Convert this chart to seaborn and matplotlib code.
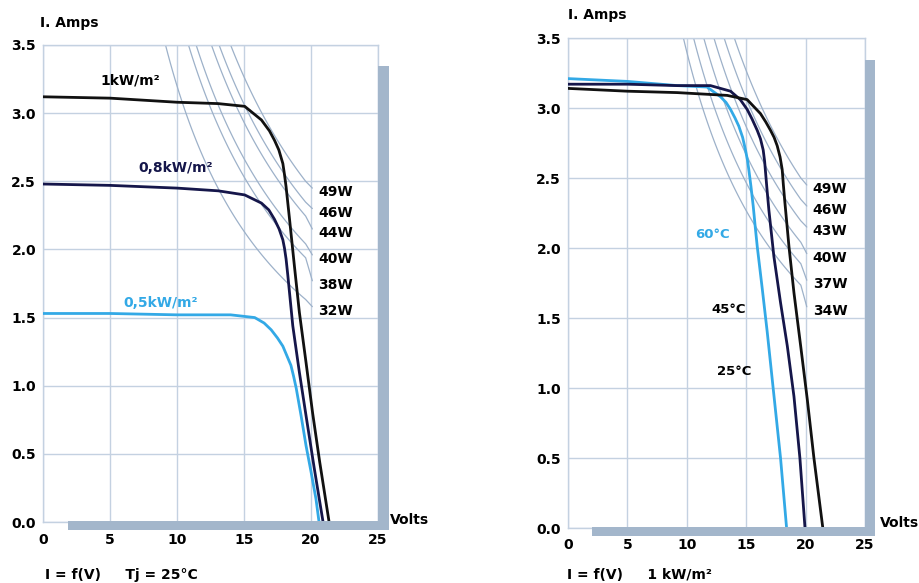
import numpy as np
import matplotlib.pyplot as plt
import seaborn as sns
from matplotlib.patches import Rectangle

# ---- left panel: I = f(V) at Tj = 25°C for three irradiances ----
v_1kw = [0, 5, 10, 13.07, 15.05, 16.3, 16.9, 17.28, 17.6, 17.9, 18.02, 18.14, 18.4, 18.76, 19.13, 19.63, 20.12, 20.65, 21.35]
i_1kw = [3.12, 3.11, 3.08, 3.07, 3.05, 2.95, 2.87, 2.80, 2.73, 2.63, 2.55, 2.46, 2.22, 1.88, 1.54, 1.17, 0.80, 0.44, 0.0]

v_08kw = [0, 5, 10, 13.07, 15.05, 16.3, 16.85, 17.28, 17.62, 17.9, 18.02, 18.14, 18.27, 18.4, 18.64, 19.13, 19.63, 20.25, 20.9]
i_08kw = [2.48, 2.47, 2.45, 2.43, 2.40, 2.34, 2.29, 2.22, 2.15, 2.07, 2.01, 1.93, 1.81, 1.68, 1.44, 1.10, 0.78, 0.39, 0.0]

v_05kw = [0, 5, 10, 14, 15.8, 16.5, 17.03, 17.5, 17.9, 18.2, 18.5, 18.7, 18.9, 19.26, 19.63, 20.0, 20.37, 20.6]
i_05kw = [1.53, 1.53, 1.52, 1.52, 1.50, 1.46, 1.41, 1.35, 1.29, 1.22, 1.15, 1.07, 0.98, 0.78, 0.56, 0.37, 0.17, 0.0]

# ---- right panel: I = f(V) at 1 kW/m² for three temperatures ----
v_25c = [0, 5, 9.19, 13.4, 15.08, 16.2, 16.65, 17.05, 17.35, 17.61, 17.85, 18.03, 18.12, 18.23, 18.6, 19.02, 19.6, 20.14, 20.7, 21.45]
i_25c = [3.14, 3.12, 3.11, 3.09, 3.06, 2.96, 2.90, 2.84, 2.79, 2.73, 2.65, 2.56, 2.46, 2.35, 2.01, 1.68, 1.29, 0.92, 0.50, 0.0]

v_45c = [0, 5, 9.19, 11.99, 13.68, 14.5, 15.08, 15.5, 15.93, 16.2, 16.43, 16.55, 16.63, 16.75, 16.91, 17.33, 17.89, 18.46, 19.02, 19.52, 19.95]
i_45c = [3.17, 3.17, 3.16, 3.16, 3.12, 3.06, 2.99, 2.92, 2.84, 2.78, 2.70, 2.62, 2.54, 2.42, 2.27, 1.94, 1.61, 1.30, 0.94, 0.50, 0.0]

v_60c = [0, 5, 9.19, 11.7, 12.84, 13.3, 13.68, 14.05, 14.38, 14.7, 14.94, 15.1, 15.22, 15.4, 15.59, 15.75, 15.93, 16.35, 16.77, 17.33, 17.89, 18.4]
i_60c = [3.21, 3.19, 3.16, 3.15, 3.08, 3.04, 2.99, 2.93, 2.87, 2.79, 2.70, 2.63, 2.56, 2.44, 2.30, 2.16, 2.01, 1.71, 1.40, 0.95, 0.50, 0.0]

# constant power curves (W) and where their labels sit (A)
power_left = [49, 46, 44, 40, 38, 32]
power_right = [49, 46, 43, 40, 37, 34]
label_amps = [2.42, 2.27, 2.12, 1.93, 1.74, 1.55]

x_ticks = [0, 5, 10, 15, 20, 25]
y_ticks = [0.0, 0.5, 1.0, 1.5, 2.0, 2.5, 3.0, 3.5]

BLACK = "#111111"
NAVY = "#15164a"
CYAN = "#33a9e6"
ISO = "#9db1c9"
GRID = "#c4d1e1"
SHADOW = "#a3b6cb"

sns.set_style("white")
plt.rcParams["font.family"] = ["DejaVu Sans"]
plt.rcParams["font.weight"] = "bold"
plt.rcParams["text.color"] = "black"
plt.rcParams["xtick.color"] = "black"
plt.rcParams["ytick.color"] = "black"
plt.rcParams["lines.solid_joinstyle"] = "round"

fig = plt.figure(figsize=(9.19, 5.83), dpi=100)
ax1 = fig.add_axes([43 / 919, 1 - 522 / 583, 335 / 919, 477 / 583])
ax2 = fig.add_axes([568 / 919, 1 - 528 / 583, 297 / 919, 490 / 583])


def setup(ax, xpad, ypad, bar_left):
    ax.set_xlim(0, 25)
    ax.set_ylim(0, 3.5)
    ax.set_xticks(x_ticks)
    ax.set_yticks(y_ticks)
    ax.set_yticklabels([f"{t:.1f}" for t in y_ticks])
    ax.grid(True, color=GRID, lw=1)
    ax.tick_params(length=0, labelsize=10, colors="black")
    ax.tick_params(axis="x", pad=xpad)
    ax.tick_params(axis="y", pad=ypad)
    for t in ax.get_xticklabels() + ax.get_yticklabels():
        t.set_fontweight("bold")
    for s in ax.spines.values():
        s.set_color(GRID)
        s.set_linewidth(1)
    ax.set_xlabel("")
    ax.set_ylabel("")
    # offset "3D" shadow of the frame
    ax.add_patch(Rectangle((1.0, -0.017), 0.032, 0.972, transform=ax.transAxes,
                           color=SHADOW, clip_on=False, zorder=5, lw=0))
    ax.add_patch(Rectangle((bar_left, -0.017), 1.032 - bar_left, 0.019, transform=ax.transAxes,
                           color=SHADOW, clip_on=False, zorder=5, lw=0))


def iso_lines(ax, powers, text_x):
    for p, ly in zip(powers, label_amps):
        v = np.linspace(p / 3.5, 19.6, 60)
        vv = np.append(v, 20.1)
        ii = np.append(p / v, ly + 0.03)
        sns.lineplot(x=vv, y=ii, ax=ax, color=ISO, lw=0.9, sort=False, estimator=None, zorder=2)
        ax.text(text_x, ly, f"{p}W", fontsize=10, fontweight="bold", color="black",
                va="center", ha="left", zorder=6)


# left panel
iso_lines(ax1, power_left, 20.55)
sns.lineplot(x=v_05kw, y=i_05kw, ax=ax1, color=CYAN, lw=2.0, sort=False, estimator=None, zorder=3)
sns.lineplot(x=v_08kw, y=i_08kw, ax=ax1, color=NAVY, lw=2.0, sort=False, estimator=None, zorder=3)
sns.lineplot(x=v_1kw, y=i_1kw, ax=ax1, color=BLACK, lw=2.0, sort=False, estimator=None, zorder=4)
setup(ax1, 8, 5, 0.075)
ax1.text(4.25, 3.24, "1kW/m²", fontsize=10, fontweight="bold", color="black", ha="left", va="center")
ax1.text(7.1, 2.60, "0,8kW/m²", fontsize=10, fontweight="bold", color=NAVY, ha="left", va="center")
ax1.text(6.0, 1.61, "0,5kW/m²", fontsize=10, fontweight="bold", color=CYAN, ha="left", va="center")

# right panel
iso_lines(ax2, power_right, 20.6)
sns.lineplot(x=v_60c, y=i_60c, ax=ax2, color=CYAN, lw=2.0, sort=False, estimator=None, zorder=3)
sns.lineplot(x=v_45c, y=i_45c, ax=ax2, color=NAVY, lw=2.0, sort=False, estimator=None, zorder=3)
sns.lineplot(x=v_25c, y=i_25c, ax=ax2, color=BLACK, lw=2.0, sort=False, estimator=None, zorder=4)
setup(ax2, 7, 5, 0.081)
ax2.text(10.7, 2.10, "60°C", fontsize=9.5, fontweight="bold", color=CYAN, ha="left", va="center")
ax2.text(12.1, 1.56, "45°C", fontsize=9.5, fontweight="bold", color="black", ha="left", va="center")
ax2.text(12.5, 1.12, "25°C", fontsize=9.5, fontweight="bold", color="black", ha="left", va="center")

# axis titles and captions
fig.text(40 / 919, 1 - 23 / 583, "I. Amps", fontsize=10, fontweight="bold", va="center")
fig.text(568 / 919, 1 - 15 / 583, "I. Amps", fontsize=10, fontweight="bold", va="center")
fig.text(390 / 919, 1 - 520 / 583, "Volts", fontsize=10, fontweight="bold", va="center")
fig.text(880 / 919, 1 - 523 / 583, "Volts", fontsize=10, fontweight="bold", va="center")
fig.text(45 / 919, 1 - 575 / 583, "I = f(V)     Tj = 25°C", fontsize=10, fontweight="bold", va="center")
fig.text(567 / 919, 1 - 575 / 583, "I = f(V)     1 kW/m²", fontsize=10, fontweight="bold", va="center")

fig.savefig("out.png", dpi=100)
